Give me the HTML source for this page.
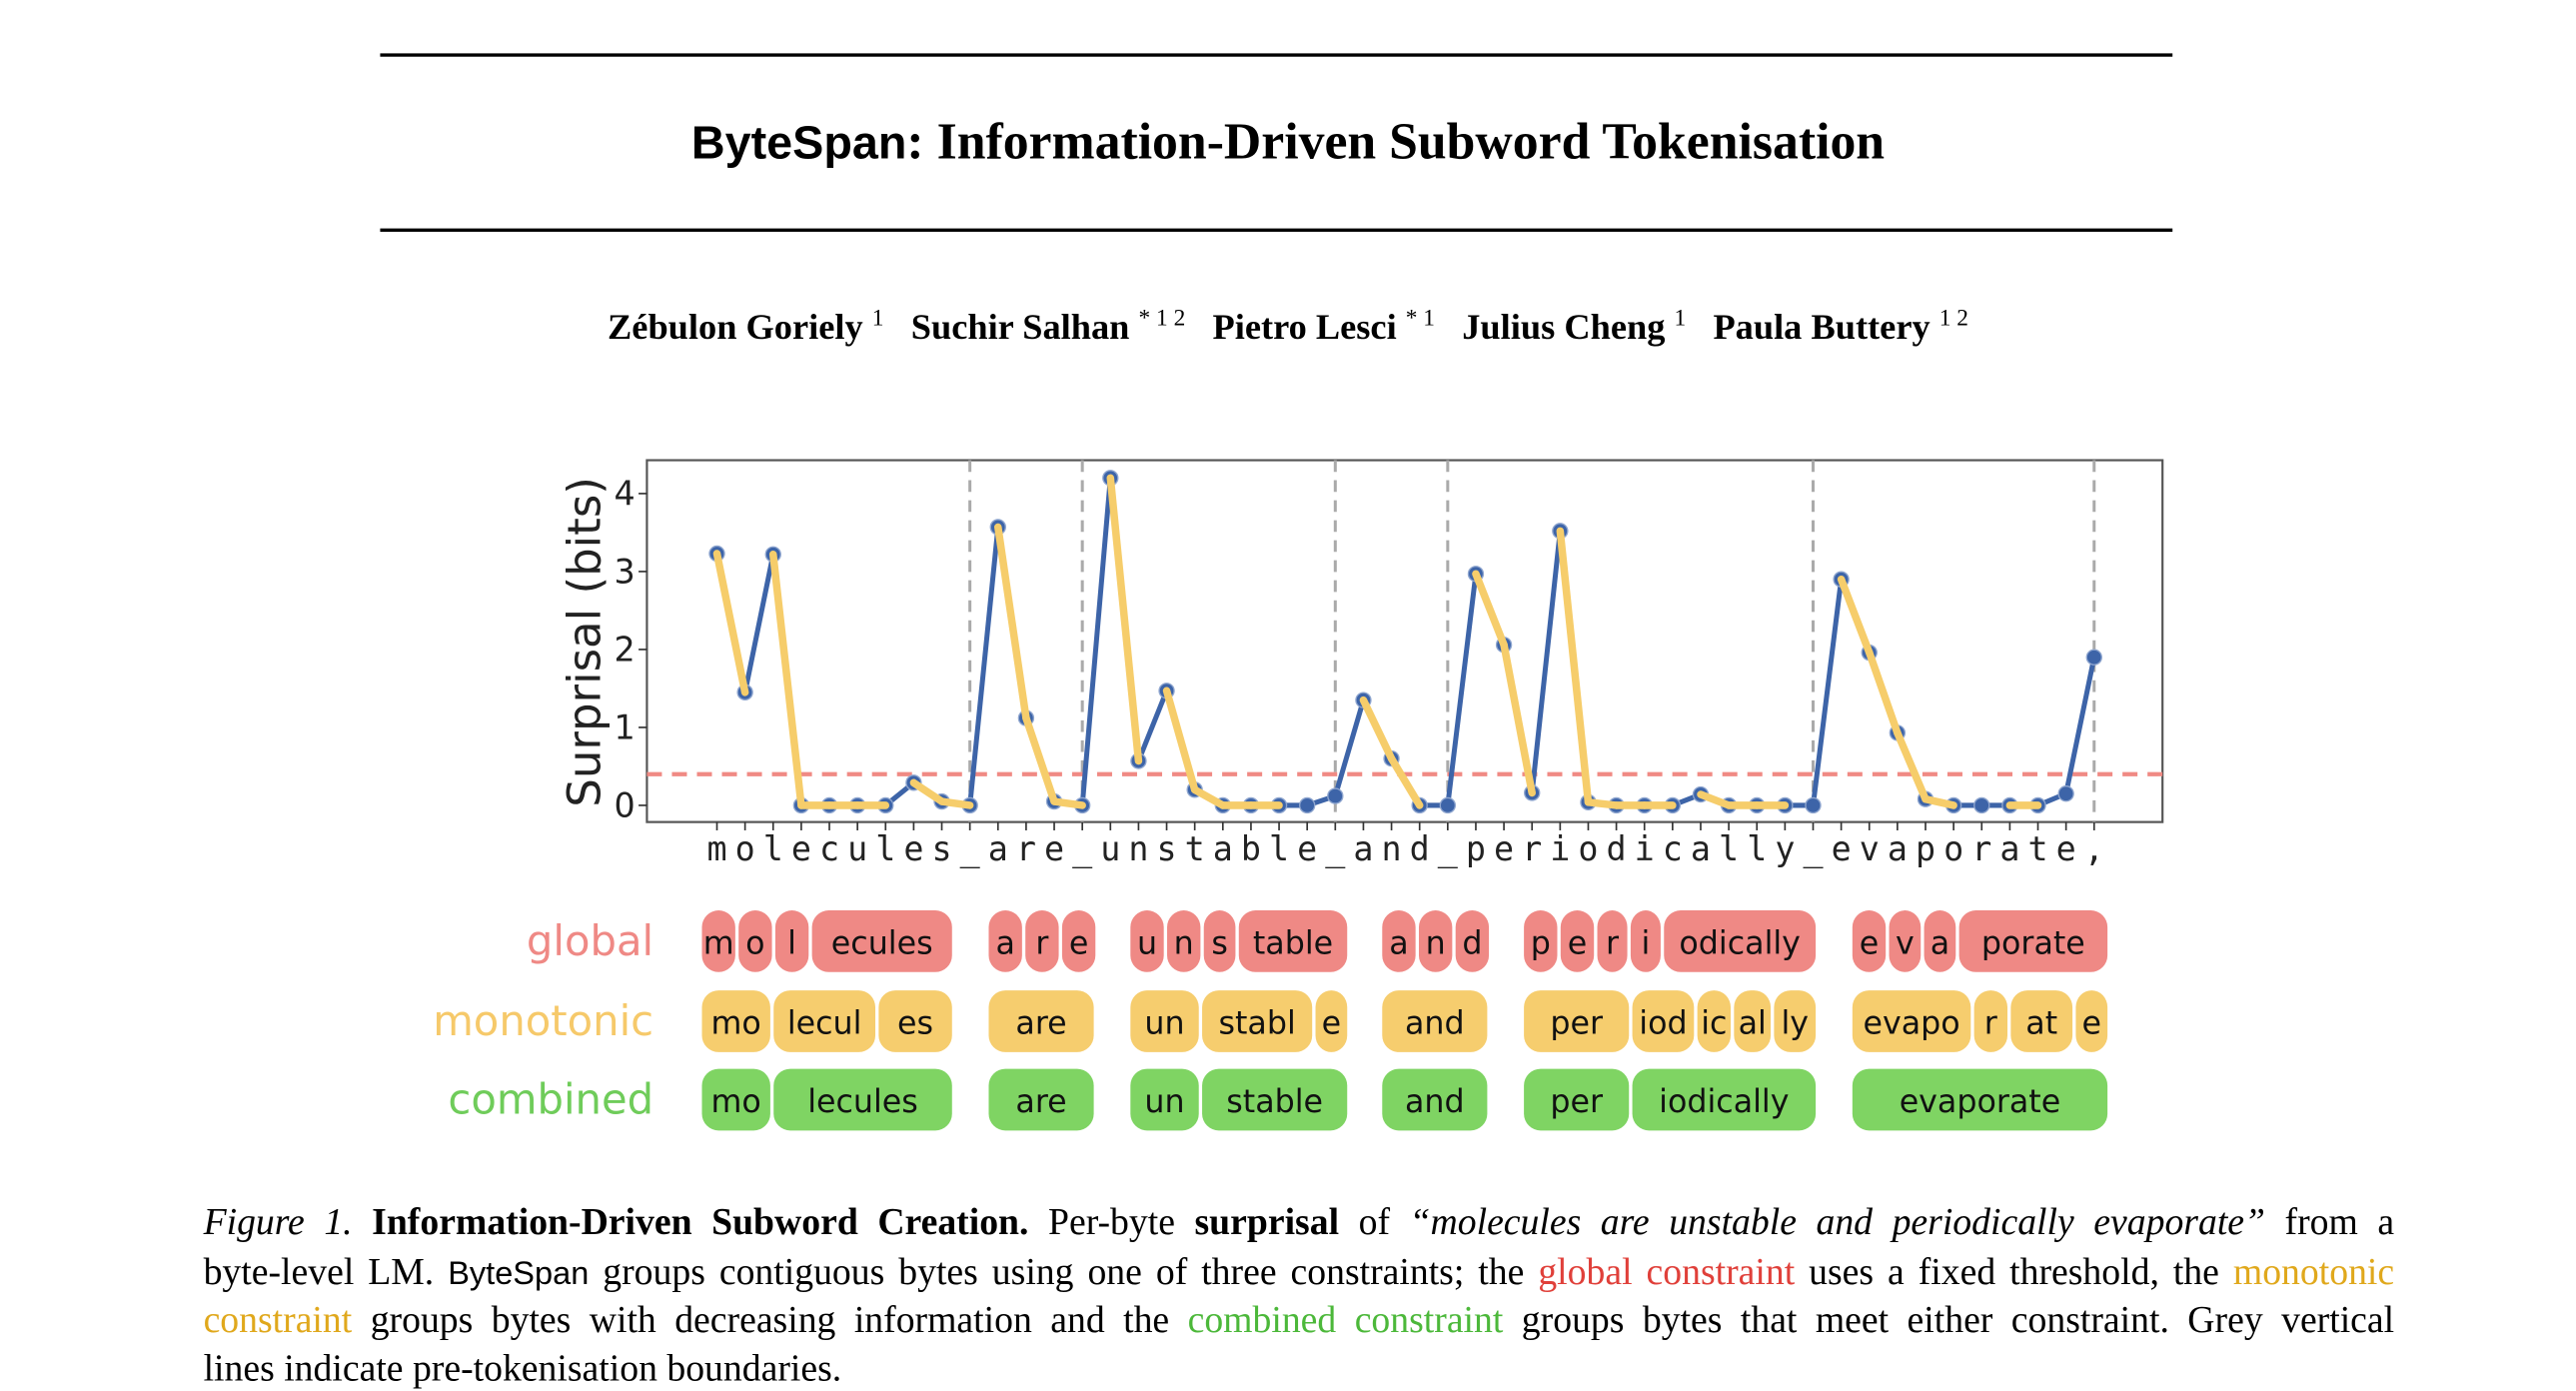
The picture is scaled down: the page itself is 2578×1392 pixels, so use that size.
<!DOCTYPE html>
<html><head><meta charset="utf-8">
<style>
html,body{margin:0;padding:0;background:#fff;}
body{width:2578px;height:1380px;overflow:hidden;position:relative;}
#page{position:absolute;left:0;top:0;width:1545px;height:827px;transform:scale(1.668608);transform-origin:0 0;}
.rule{position:absolute;left:228px;width:1075px;height:2px;background:#000;}
.title{position:absolute;left:0;width:1545px;top:67px;text-align:center;font:bold 31px "Liberation Serif",serif;}
.title .sans{font-family:"Liberation Sans",sans-serif;font-size:28px;}
.authors{position:absolute;left:0;width:1545px;top:184px;text-align:center;font:bold 21.8px "Liberation Serif",serif;white-space:pre;}
.authors sup{font-weight:normal;font-size:14px;}
.cap{position:absolute;left:122px;width:1314px;font:22.6px "Liberation Serif",serif;white-space:nowrap;}
.cap.j{text-align:justify;text-align-last:justify;white-space:normal;}
.red{color:#e0403a}.yel{color:#e0a81c}.grn{color:#4cb83a}
</style></head><body>
<div id="page">
<div class="rule" style="top:32px"></div>
<div class="title"><span class="sans">ByteSpan</span>: Information-Driven Subword Tokenisation</div>
<div class="rule" style="top:137px"></div>
<div class="authors">Zébulon Goriely <sup>1</sup>   Suchir Salhan <sup>* 1 2</sup>   Pietro Lesci <sup>* 1</sup>   Julius Cheng <sup>1</sup>   Paula Buttery <sup>1 2</sup></div>

<svg id="chart" width="1545" height="700" style="position:absolute;left:0;top:0"></svg>

<div class="cap j" style="top:720px"><i>Figure 1.</i> <b>Information-Driven Subword Creation.</b> Per-byte <b>surprisal</b> of <i>“molecules are unstable and periodically evaporate”</i> from a</div>
<div class="cap j" style="top:750px">byte-level LM. <span style="font-family:'Liberation Sans',sans-serif;font-size:19.5px">ByteSpan</span> groups contiguous bytes using one of three constraints; the <span class="red">global constraint</span> uses a fixed threshold, the <span class="yel">monotonic</span></div>
<div class="cap j" style="top:779px"><span class="yel">constraint</span> groups bytes with decreasing information and the <span class="grn">combined constraint</span> groups bytes that meet either constraint. Grey vertical</div>
<div class="cap" style="top:808px">lines indicate pre-tokenisation boundaries.</div>
</div>
<script>
const chars = "molecules_are_unstable_and_periodically_evaporate,".split("");
const surprisal = [3.23,1.45,3.22,0,0,0,0,0.29,0.05,0,3.57,1.12,0.05,0,4.2,0.57,1.47,0.2,0,0,0,0,0.12,1.35,0.6,0,0,2.97,2.06,0.16,3.52,0.04,0,0,0,0.14,0,0,0,0,2.9,1.96,0.93,0.08,0,0,0,0,0.15,1.9];
const yellowSegments = [0,2,3,4,5,7,8,10,11,12,14,16,17,18,19,23,24,27,28,30,31,32,33,35,36,37,40,41,42,43,46];
const boundaries = [9,13,22,26,39,49];
const threshold = 0.4;
const yTicks = [0,1,2,3,4];
const rowLabels = ["global","monotonic","combined"];
const globalTokens = [["m",421,441],["o",443,463],["l",465,485],["ecules",487,571],["a",593,613],["r",615,635],["e",637,657],["u",678,698],["n",700,720],["s",722,741],["table",743,808],["a",829,849],["n",851,871],["d",873,893],["p",914,934],["e",936,956],["r",958,976],["i",978,996],["odically",998,1089],["e",1111,1131],["v",1133,1152],["a",1154,1173],["porate",1175,1264]];
const monoTokens = [["mo",421,462],["lecul",464,525],["es",527,571],["are",593,656],["un",678,719],["stabl",721,787],["e",789,808],["and",829,892],["per",914,977],["iod",979,1016],["ic",1018,1038],["al",1040,1062],["ly",1064,1089],["evapo",1111,1182],["r",1184,1204],["at",1206,1243],["e",1245,1264]];
const combTokens = [["mo",421,462],["lecules",464,571],["are",593,656],["un",678,719],["stable",721,808],["and",829,892],["per",914,977],["iodically",979,1089],["evaporate",1111,1264]];

const NS="http://www.w3.org/2000/svg";
const svg=document.getElementById('chart');
const X0=388,X1=1297,Y0=276,Y1=493;
const x=i=>430+i*(1256-430)/49;
const y=v=>483-v*46.75;
function mk(t,a,p){const e=document.createElementNS(NS,t);for(const k in a)e.setAttribute(k,a[k]);(p||svg).appendChild(e);return e;}

const frame=mk('rect',{x:X0,y:Y0,width:X1-X0,height:Y1-Y0,fill:'none',stroke:'#555','stroke-width':1.3});



yTicks.forEach(v=>{
  const tk=mk('line',{x1:X0-5,x2:X0,y1:y(v),y2:y(v),stroke:'#333','stroke-width':1});
  
  
  const t=mk('text',{x:X0-7,y:y(v)+7,'text-anchor':'end','font-family':'DejaVu Sans, sans-serif','font-size':20,fill:'#222'});
  t.textContent=v;
  
  
});
const yt=mk('text',{x:0,y:0,transform:'translate(360,385) rotate(-90)','text-anchor':'middle','font-family':'DejaVu Sans, sans-serif','font-size':27,fill:'#222'});
yt.textContent='Surprisal (bits)';



chars.forEach((c,i)=>{
  const tk=mk('line',{x1:x(i),x2:x(i),y1:Y1,y2:Y1+5,stroke:'#333','stroke-width':1});
  
  
  const t=mk('text',{x:x(i),y:516,'text-anchor':'middle','font-family':'DejaVu Sans Mono, monospace','font-size':20,fill:'#222'});
  t.textContent=c;
  
  
});

boundaries.forEach(b=>{
  const l=mk('line',{x1:x(b),x2:x(b),y1:Y0,y2:Y1,stroke:'#aaa','stroke-width':1.8,'stroke-dasharray':'7,5'});
  
  
});
const th=mk('line',{x1:X0,x2:X1,y1:y(threshold),y2:y(threshold),stroke:'#f08a84','stroke-width':2.5,'stroke-dasharray':'9,6'});



const pts=surprisal.map((v,i)=>x(i)+','+y(v)).join(' ');
const bl=mk('polyline',{points:pts,fill:'none',stroke:'#3d64a8','stroke-width':3,'stroke-linejoin':'round'});


surprisal.forEach((v,i)=>{
  const d=mk('circle',{cx:x(i),cy:y(v),r:4.5,fill:'#3d64a8',stroke:'#8fa6cf','stroke-width':0.8});
  
  
});
yellowSegments.forEach(i=>{
  const s=mk('line',{x1:x(i),y1:y(surprisal[i]),x2:x(i+1),y2:y(surprisal[i+1]),stroke:'#f6cd6b','stroke-width':4.5,'stroke-linecap':'round'});
  
  
});

const rows=[[globalTokens,'#ef8985',546,'#ef8985'],[monoTokens,'#f6cd6e',594,'#f6c96a'],[combTokens,'#7fd463',641,'#6fcc5a']];
rows.forEach((r,ri)=>{
  const lab=mk('text',{x:392,y:r[2]+27,'text-anchor':'end','font-family':'DejaVu Sans, sans-serif','font-size':25,fill:r[3]});
  lab.textContent=rowLabels[ri];
  
  
  r[0].forEach(tok=>{
    const g=mk('rect',{x:tok[1],y:r[2],width:tok[2]-tok[1],height:37,rx:10,ry:10,fill:r[1]});
    
    
    const t=mk('text',{x:(tok[1]+tok[2])/2,y:r[2]+26,'text-anchor':'middle','font-family':'DejaVu Sans, sans-serif','font-size':19,fill:'#111'});
    t.textContent=tok[0];
    
    
  });
});
</script>
</body></html>
